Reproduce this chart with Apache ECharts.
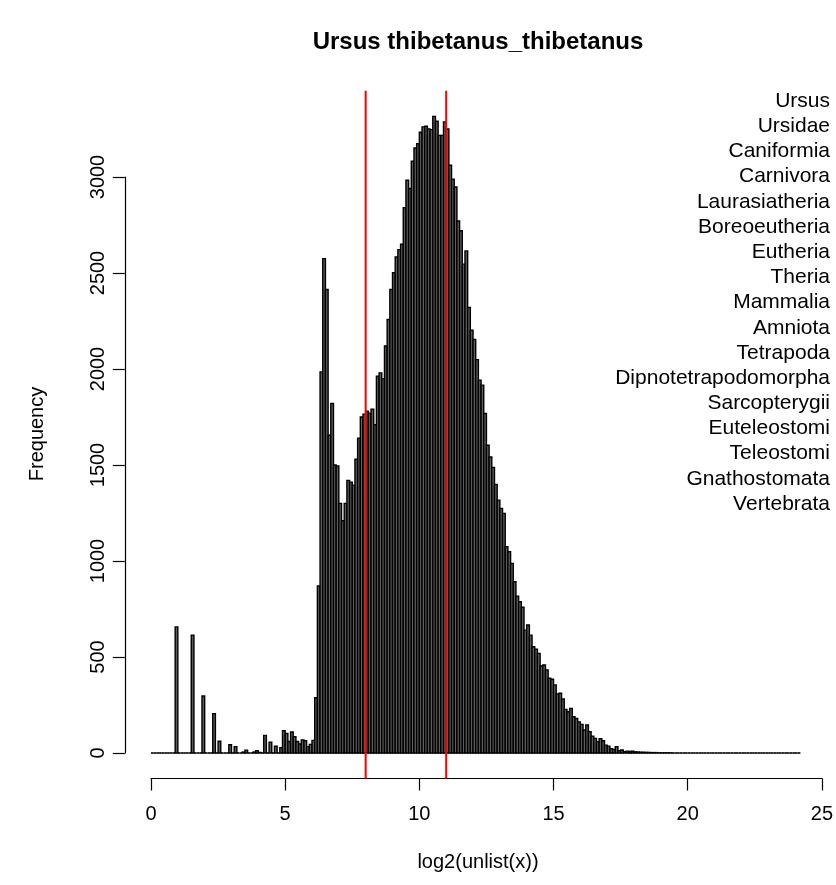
<!DOCTYPE html>
<html><head><meta charset="utf-8">
<script src="https://cdn.jsdelivr.net/npm/echarts@6/dist/echarts.min.js"></script>
<style>html,body{margin:0;padding:0;background:#fff}#c{width:836px;height:885px}</style>
</head><body><div id="c"></div>
<script>
const titleText = 'Ursus thibetanus_thibetanus';
const xName = 'log2(unlist(x))';
const yName = 'Frequency';
const binWidth = 0.1;
const counts = [
  0,0,0,0,0,0,0,0,0,657,
  0,0,0,0,0,614,0,0,0,297,
  0,0,0,205,0,61,0,0,0,43,
  0,33,0,0,5,15,0,0,5,12,
  3,0,92,0,56,0,35,0,28,116,
  102,60,109,85,60,47,68,64,33,45,
  66,288,870,1985,2575,2414,1655,1820,1500,1495,
  1300,1210,1300,1420,1410,1395,1530,1640,1750,1765,
  1780,1770,1790,1710,1962,1980,1950,2120,2258,2414,
  2502,2584,2622,2650,2840,2983,2940,3082,3151,3173,
  3233,3261,3264,3250,3247,3316,3290,3217,3217,3287,
  3250,3061,2989,2948,2771,2720,2546,2615,2320,2202,
  2154,2049,1942,1916,1768,1603,1542,1487,1399,1317,
  1274,1248,1074,1048,987,892,817,788,759,640,
  667,614,553,540,519,453,458,432,389,384,
  355,307,311,281,227,215,232,189,180,162,
  149,120,146,111,88,76,59,74,64,41,
  36,22,19,33,12,16,7,10,8,9,
  6,5,4,4,3,3,2,2,2,1,
  1,1,1,1,0,0,0,0,0,0,
  0,0,0,0,0,0,0,0,0,0,
  0,0,0,0,0,0,0,0,0,0,
  0,0,0,0,0,0,0,0,0,0,
  0,0,0,0,0,0,0,0,0,0,
  0,0
];
const redLines = [8, 11];
const xTickLabels = [0, 5, 10, 15, 20, 25];
const yTickLabels = [0, 500, 1000, 1500, 2000, 2500, 3000];
const taxa = ['Ursus','Ursidae','Caniformia','Carnivora','Laurasiatheria','Boreoeutheria','Eutheria','Theria','Mammalia','Amniota','Tetrapoda','Dipnotetrapodomorpha','Sarcopterygii','Euteleostomi','Teleostomi','Gnathostomata','Vertebrata'];

const FONT = '"Liberation Sans", Arial, Helvetica, sans-serif';
const yMaxCount = Math.max(...counts);
const yLo = -0.04 * yMaxCount, yHi = 1.04 * yMaxCount;

const histData = counts.map((c, i) => [i * binWidth, (i + 1) * binWidth, c]);

const chart = echarts.init(document.getElementById('c'), null, {renderer: 'canvas'});

const graphics = [
  {type: 'text', x: 478, y: 42, style: {text: titleText, font: 'bold 24px ' + FONT, fill: '#000', textAlign: 'center', textVerticalAlign: 'middle'}},
  {type: 'text', x: 478, y: 862, style: {text: xName, font: '20px ' + FONT, fill: '#000', textAlign: 'center', textVerticalAlign: 'middle'}},
  {type: 'text', x: 37, y: 434, rotation: Math.PI / 2, style: {text: yName, font: '20px ' + FONT, fill: '#000', textAlign: 'center', textVerticalAlign: 'middle'}}
];
taxa.forEach((t, i) => {
  graphics.push({type: 'text', x: 830, y: 101 + i * 25.19, style: {text: t, font: '21px ' + FONT, fill: '#000', textAlign: 'right', textVerticalAlign: 'middle'}});
});

chart.setOption({
  animation: false,
  backgroundColor: '#fff',
  grid: {left: 151, top: 177, width: 676, height: 576, containLabel: false},
  xAxis: {
    type: 'value', min: xTickLabels[0], max: xTickLabels[xTickLabels.length - 1], interval: 5,
    offset: 25.5,
    axisLine: {show: true, onZero: false, lineStyle: {color: '#000', width: 1.2}},
    axisTick: {show: true, length: 12, lineStyle: {color: '#000', width: 1.2}},
    axisLabel: {show: true, margin: 26, color: '#000', fontSize: 20, fontFamily: FONT, showMaxLabel: true, showMinLabel: true, formatter: v => String(v)},
    splitLine: {show: false}
  },
  yAxis: {
    type: 'value', min: yTickLabels[0], max: yTickLabels[yTickLabels.length - 1], interval: 500,
    offset: 26.2,
    axisLine: {show: true, onZero: false, lineStyle: {color: '#000', width: 1.2}},
    axisTick: {show: true, length: 12, lineStyle: {color: '#000', width: 1.2}},
    axisLabel: {show: true, margin: 26, rotate: 90, color: '#000', fontSize: 20, fontFamily: FONT, verticalAlign: 'middle', align: 'center', formatter: v => String(v)},
    splitLine: {show: false}
  },
  graphic: graphics,
  series: [
    {
      type: 'custom', name: 'hist', clip: false, silent: true,
      data: histData,
      encode: {x: [0, 1], y: 2},
      renderItem: function (params, api) {
        const x0 = api.value(0), x1 = api.value(1), v = api.value(2);
        const p0 = api.coord([x0, 0]);
        const p1 = api.coord([x1, v]);
        if (v === 0) {
          return {type: 'line', shape: {x1: p0[0], y1: p0[1], x2: p1[0], y2: p0[1]}, style: {stroke: '#000', lineWidth: 1.6}};
        }
        return {type: 'rect', shape: {x: p0[0], y: p1[1], width: p1[0] - p0[0], height: p0[1] - p1[1]},
                style: {fill: '#5e5e5e', stroke: '#000', lineWidth: 1.4}};
      }
    },
    {
      type: 'custom', name: 'refs', clip: false, silent: true,
      data: redLines.map(v => [v]),
      encode: {x: 0},
      renderItem: function (params, api) {
        const v = api.value(0);
        const a = api.coord([v, yLo]);
        const b = api.coord([v, yHi]);
        return {type: 'line', shape: {x1: a[0], y1: a[1], x2: b[0], y2: b[1]}, style: {stroke: '#ff0000', lineWidth: 2}};
      }
    }
  ]
});
</script>
</body></html>
